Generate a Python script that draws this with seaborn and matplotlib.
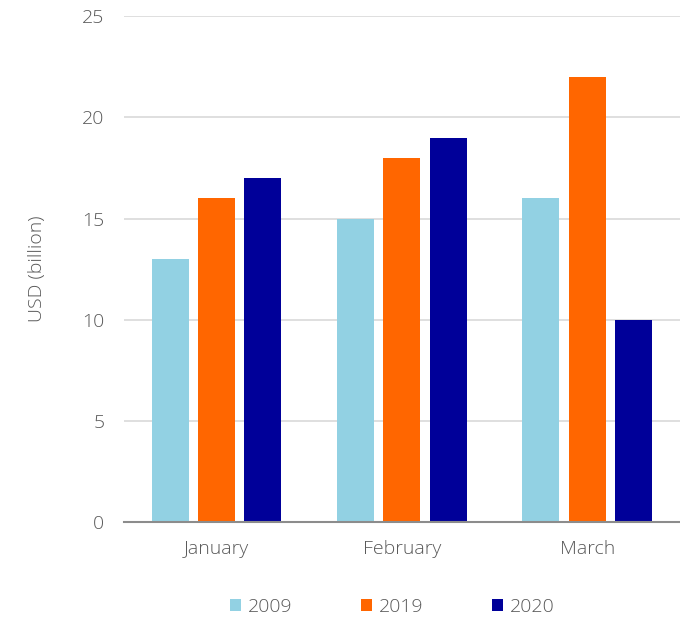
import matplotlib
matplotlib.use("Agg")
import matplotlib.pyplot as plt
import seaborn as sns
import pandas as pd
from matplotlib.patches import Patch

months = ["January", "February", "March"]
years = ["2009", "2019", "2020"]
values_2009 = [13, 15, 16]
values_2019 = [16, 18, 22]
values_2020 = [17, 19, 10]
colors = ["#92D1E3", "#FF6600", "#000099"]
y_ticks = [0, 5, 10, 15, 20, 25]

df = pd.DataFrame({
    "month": months * 3,
    "year": [y for y in years for _ in months],
    "value": values_2009 + values_2019 + values_2020,
})

sns.set_theme(style="white")
plt.rcParams["font.family"] = ["Open Sans", "DejaVu Sans"]
plt.rcParams["font.weight"] = "light"
text_color = "#595959"
fs = 14

fig = plt.figure(figsize=(6.8, 6.18), dpi=100)
ax = fig.add_axes([0.182, 0.155, 0.818, 0.819])

sns.barplot(data=df, x="month", y="value", hue="year", order=months,
            hue_order=years, palette=colors, width=0.75, gap=0.2,
            saturation=1, linewidth=0, ax=ax, legend=False)

ax.set_xlim(-0.5, 2.5)
ax.set_ylim(0, 25)
ax.set_yticks(y_ticks)
ax.yaxis.grid(True, color="#D9D9D9", linewidth=1.2)
ax.set_axisbelow(True)
for side in ["top", "right", "left"]:
    ax.spines[side].set_visible(False)
ax.spines["bottom"].set_color("#8C8C8C")
ax.spines["bottom"].set_linewidth(1.5)

ax.tick_params(axis="y", length=0, pad=14, labelsize=fs, labelcolor=text_color)
ax.tick_params(axis="x", length=0, pad=13, labelsize=fs, labelcolor=text_color)
for lbl in ax.get_xticklabels() + ax.get_yticklabels():
    lbl.set_fontweight("light")
ax.set_xlabel("")
ax.set_ylabel("USD (billion)", fontsize=fs, color=text_color, labelpad=26,
              fontweight="light")

handles = [Patch(facecolor=c, edgecolor="none", label=y) for c, y in zip(colors, years)]
leg = fig.legend(handles=handles, loc="center", bbox_to_anchor=(0.577, 0.018),
                 ncol=3, frameon=False, fontsize=fs, labelcolor=text_color,
                 handlelength=0.6, handleheight=0.6, handletextpad=0.35,
                 columnspacing=3.5)
for t in leg.get_texts():
    t.set_fontweight("light")

fig.savefig("out.png", dpi=100)
